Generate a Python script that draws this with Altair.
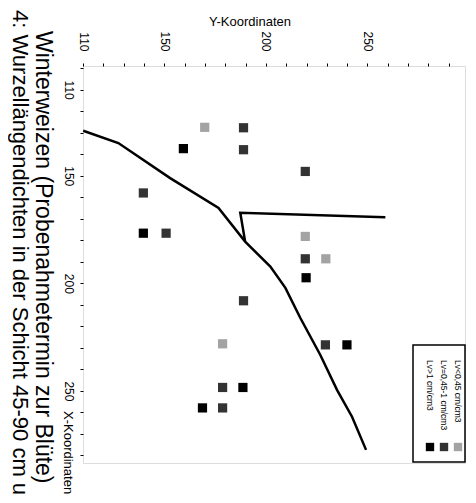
import altair as alt
import pandas as pd

FONT = "Liberation Sans"

# ---- sample points (Y-Koordinate horizontal, X-Koordinate vertical) ----
y_coord = [169.9, 189.0, 159.4, 189.0, 219.4, 139.7, 139.7, 150.9, 219.4, 219.4,
           229.5, 219.8, 189.0, 178.7, 229.3, 239.9, 178.7, 188.7, 168.8, 178.7]
x_coord = [127.5, 127.7, 137.4, 137.9, 148.0, 158.0, 176.7, 176.7, 178.2, 188.6,
           188.6, 197.4, 208.1, 228.1, 228.6, 228.6, 248.4, 248.4, 257.9, 257.9]
lv_class = ["low", "mid", "high", "mid", "mid", "mid", "high", "mid", "low", "mid",
            "low", "high", "mid", "low", "mid", "high", "mid", "high", "high", "mid"]

# ---- boundary line ----
main_y = [110.1, 127.4, 152.9, 176.7, 189.8, 202.2, 209.6, 216.9, 226.8, 235.0, 242.4, 249.3]
main_x = [129.1, 134.8, 151.1, 165.0, 180.6, 192.2, 202.1, 216.0, 233.3, 249.5, 262.0, 277.4]
spur_y = [189.8, 187.4, 258.8]
spur_x = [180.6, 167.2, 169.3]

classes = ["low", "mid", "high"]
class_colors = ["#a3a3a3", "#333333", "#000000"]
legend_labels = ["Lv<0,45 cm/cm3", "Lv=0,45-1 cm/cm3", "Lv>1 cm/cm3"]

caption_1 = "4: Wurzellängendichten in der Schicht 45-90 cm u"
caption_2 = "Winterweizen (Probenahmetermin zur Blüte)"

pts = pd.DataFrame({"Y": y_coord, "X": x_coord, "cls": lv_class})
line_df = pd.DataFrame({
    "Y": main_y + spur_y,
    "X": main_x + spur_x,
    "seg": ["main"] * len(main_y) + ["spur"] * len(spur_y),
    "i": list(range(len(main_y))) + list(range(len(spur_y))),
})

xs = alt.Scale(domain=[110, 298], nice=False, zero=False)
ys = alt.Scale(domain=[99, 283.5], nice=False, zero=False, reverse=True)

lab_expr = "indexof([110,150,200,250], datum.value) >= 0 ? datum.label : ''"
x_axis = alt.Axis(orient="top", title=None, values=list(range(110, 300, 10)),
                  labelExpr=lab_expr, labelAngle=90, labelAlign="right",
                  labelBaseline="middle", labelPadding=12, tickSize=3,
                  tickColor="black", domain=False, grid=False, labelFont=FONT,
                  labelFontSize=12, labelColor="black", labelOverlap=False,
                  labelFlush=False, labelBound=False)
y_axis = alt.Axis(orient="left", title=None, values=list(range(100, 290, 10)),
                  labelExpr=lab_expr, labelAngle=90, labelAlign="center",
                  labelBaseline="top", labelPadding=7, tickSize=3,
                  tickColor="black", domain=False, grid=False, labelFont=FONT,
                  labelFontSize=12, labelColor="black", labelOverlap=False,
                  labelFlush=False, labelBound=False)

points = alt.Chart(pts).mark_square(size=85, opacity=1).encode(
    x=alt.X("Y:Q", scale=xs, axis=x_axis),
    y=alt.Y("X:Q", scale=ys, axis=y_axis),
    color=alt.Color("cls:N", scale=alt.Scale(domain=classes, range=class_colors), legend=None),
)

line = alt.Chart(line_df).mark_line(color="black", strokeWidth=2.5).encode(
    x=alt.X("Y:Q", scale=xs, axis=x_axis),
    y=alt.Y("X:Q", scale=ys, axis=y_axis),
    detail="seg:N",
    order="i:Q",
)

one = pd.DataFrame({"a": [0]})

titles = [
    alt.Chart(one).mark_text(text="Y-Koordinaten", font=FONT, fontSize=13, align="center",
                             baseline="middle", color="black").encode(
        x=alt.value(167), y=alt.value(-44)),
    alt.Chart(one).mark_text(text="X-Koordinaten", font=FONT, fontSize=13, angle=90,
                             align="left", baseline="middle", color="black").encode(
        x=alt.value(-15), y=alt.value(345)),
    alt.Chart(one).mark_text(text=caption_1, font=FONT, fontSize=22, angle=90,
                             align="left", baseline="middle", color="black").encode(
        x=alt.value(-63), y=alt.value(-56)),
    alt.Chart(one).mark_text(text=caption_2, font=FONT, fontSize=23, angle=90,
                             align="left", baseline="middle", color="black").encode(
        x=alt.value(-40), y=alt.value(-35)),
]

legend_box = alt.Chart(one).mark_rect(fill="white", stroke="black", strokeWidth=1.5).encode(
    x=alt.value(330), x2=alt.value(382), y=alt.value(279), y2=alt.value(396))

legend_layers = [legend_box]
col_x = [375, 361, 347]
for lbl, col, cx in zip(legend_labels, class_colors, col_x):
    legend_layers.append(
        alt.Chart(one).mark_text(text=lbl, font=FONT, fontSize=8.5, angle=90, align="left",
                                 baseline="middle", color="black").encode(
            x=alt.value(cx), y=alt.value(294)))
    legend_layers.append(
        alt.Chart(one).mark_square(size=70, color=col, opacity=1).encode(
            x=alt.value(cx), y=alt.value(381)))

chart = alt.layer(line, points, *titles, *legend_layers).properties(
    width=382, height=397,
    autosize=alt.AutoSizeParams(type="none"),
    padding={"left": 75, "top": 58, "right": 3, "bottom": 32},
).configure_view(stroke="black", strokeWidth=2).configure(background="white")

chart.save("out.html", embed_options={"renderer": "svg", "actions": False})
